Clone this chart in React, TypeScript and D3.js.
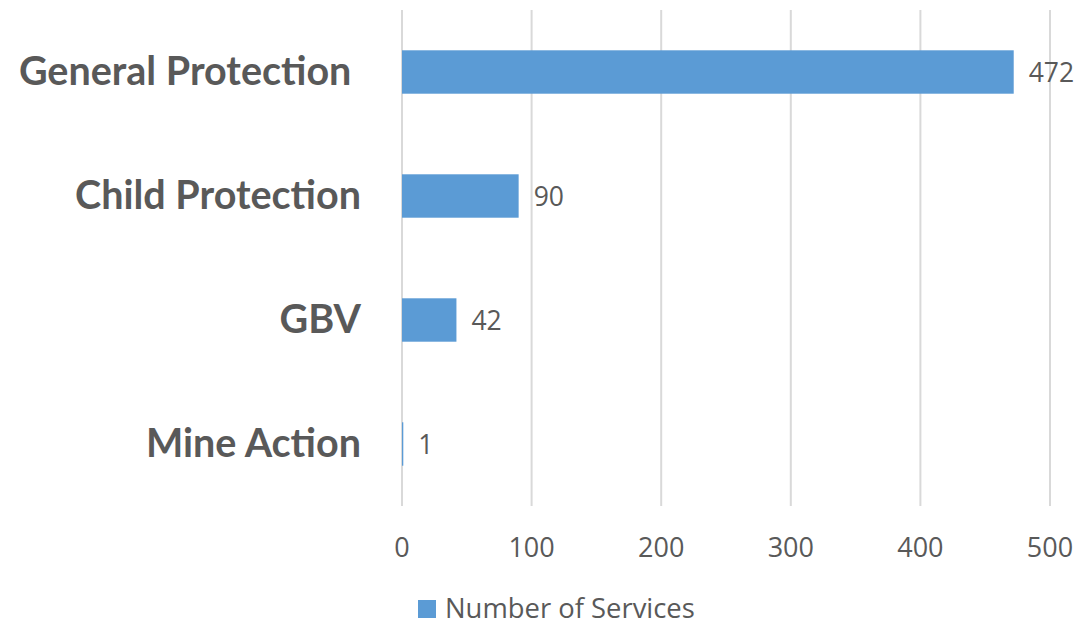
import React from "react";
import * as d3 from "d3";

// Protection services by area of responsibility
const categories = ["General Protection ", "Child Protection", "GBV", "Mine Action"];
const services = [472, 90, 42, 1];
const xTicks = [0, 100, 200, 300, 400, 500];
const seriesName = "Number of Services";

const W = 1079;
const H = 621;
const margin = { left: 402, right: 29, top: 10, bottom: 115 };

const BAR = "#5B9BD5";
const GRID = "#D9D9D9";
const TEXT = "#595959";
const FONT = "'Open Sans', 'Noto Sans', sans-serif";
const LABEL_FONT = "Lato, 'Open Sans', sans-serif";

export default function App() {
  const x = d3.scaleLinear().domain([0, 500]).range([margin.left, W - margin.right]);
  const y = d3
    .scaleBand<string>()
    .domain(categories)
    .range([margin.top, H - margin.bottom])
    .paddingInner(0.65)
    .paddingOuter(0.325);
  const plotBottom = H - margin.bottom;

  return (
    <svg
      width={W}
      height={H}
      style={{ position: "absolute", left: 0, top: 0, background: "#fff" }}
      fontFamily={FONT}
    >
      {/* vertical gridlines */}
      {xTicks.map((t) => (
        <line
          key={"g" + t}
          x1={x(t)}
          x2={x(t)}
          y1={margin.top}
          y2={plotBottom}
          stroke={GRID}
          strokeWidth={2}
        />
      ))}
      {/* tick labels */}
      {xTicks.map((t) => (
        <text
          key={"t" + t}
          x={x(t)}
          y={557}
          textAnchor="middle"
          fontSize={27}
          fill={TEXT}
        >
          {t}
        </text>
      ))}
      {/* bars */}
      {categories.map((c, i) => (
        <rect
          key={"b" + c}
          x={x(0)}
          y={y(c)!}
          width={Math.max(0, x(services[i]) - x(0))}
          height={y.bandwidth()}
          fill={BAR}
        />
      ))}
      {/* value labels */}
      {categories.map((c, i) => (
        <text
          key={"v" + c}
          x={x(services[i]) + 15}
          y={y(c)! + y.bandwidth() / 2 + 10}
          fontSize={26.5}
          fill={TEXT}
        >
          {services[i]}
        </text>
      ))}
      {/* category labels */}
      {categories.map((c) => (
        <text
          key={"c" + c}
          x={361}
          y={y(c)! + y.bandwidth() / 2 + 13}
          textAnchor="end"
          fontFamily={LABEL_FONT}
          fontSize={39.5}
          fontWeight={700}
          fill={TEXT}
          style={{ whiteSpace: "pre" }}
        >
          {c}
        </text>
      ))}
      {/* legend */}
      <rect x={418} y={600} width={18} height={18} fill={BAR} />
      <text x={445} y={617.5} fontSize={27.4} fill={TEXT}>
        {seriesName}
      </text>
    </svg>
  );
}
